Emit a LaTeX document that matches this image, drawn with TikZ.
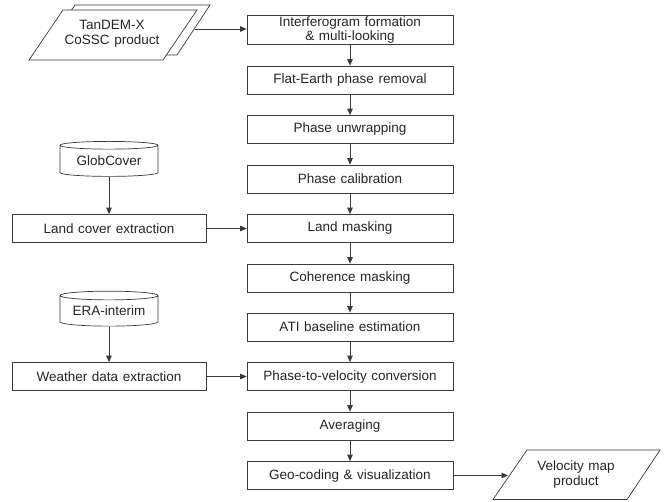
\documentclass[tikz,border=0pt]{standalone}
\usepackage{fontspec}
\setmainfont{Liberation Sans}
\usetikzlibrary{arrows.meta,shapes.geometric}
\definecolor{ln}{HTML}{3A3A3A}
\newcommand{\myfont}{\fontsize{13.5}{15}\selectfont\spaceskip=4.6pt plus 1pt\relax}
\tikzset{
  stepbox/.style={draw=ln,line width=0.7pt,minimum width=206pt,minimum height=28pt,inner sep=0pt,font=\myfont,text=black!85},
  sidebox/.style={draw=ln,line width=0.7pt,minimum width=194pt,minimum height=28pt,inner sep=0pt,font=\myfont,text=black!85},
  dbase/.style={draw=ln,line width=0.7pt,cylinder,shape border rotate=90,aspect=0.12,minimum width=98pt,minimum height=35pt,inner sep=0pt,font=\myfont,text=black!85},
  lbl/.style={inner sep=0pt,align=center,font=\myfont,text=black!85},
  shp/.style={draw=ln,line width=0.7pt,fill=white},
  arr/.style={draw=ln,line width=0.7pt,-{Triangle[length=6.5pt,width=5.5pt]}}
}
\begin{document}
\begin{tikzpicture}[x=1pt,y=-1pt]
\useasboundingbox[fill=white] (0,0) rectangle (668,501);
% TanDEM-X double parallelogram
\draw[shp] (41,55) -- (75,5) -- (210,5) -- (177,55) -- cycle;
\draw[shp] (29,60) -- (63,10) -- (197,10) -- (163,60) -- cycle;
\node[lbl] (tandem) at (112,34) {TanDEM-X\\CoSSC product};
\coordinate (tandemout) at (195,29);
% main column
\node[stepbox] (s1) at (350,30) {\begin{tabular}{@{}c@{}}Interferogram formation\\[-1pt] \& multi-looking\end{tabular}};
\node[stepbox] (s2) at (350,80) {Flat-Earth phase removal};
\node[stepbox] (s3) at (350,129.5) {Phase unwrapping};
\node[stepbox] (s4) at (350,179) {Phase calibration};
\node[stepbox] (s5) at (350,228.5) {Land masking};
\node[stepbox] (s6) at (350,278) {Coherence masking};
\node[stepbox] (s7) at (350,327) {ATI baseline estimation};
\node[stepbox] (s8) at (350,376.5) {Phase-to-velocity conversion};
\node[stepbox] (s9) at (350,426) {Averaging};
\node[stepbox] (s10) at (350,475.5) {Geo-coding \& visualization};
% side
\node[dbase] (glob) at (109,161) {GlobCover};
\node[sidebox] (land) at (109,228.5) {Land cover extraction};
\node[dbase] (era) at (109,311) {ERA-interim};
\node[sidebox] (weather) at (109,376.5) {Weather data extraction};
% velocity map
\draw[shp] (493,499.5) -- (527,450) -- (660,450) -- (627,499.5) -- cycle;
\node[lbl] (vel) at (576,474) {Velocity map\\product};
\coordinate (velin) at (508,475.5);
% connectors
\draw[arr] (tandemout) -- (tandemout -| s1.west);
\foreach \a/\b in {s1/s2,s2/s3,s3/s4,s4/s5,s5/s6,s6/s7,s7/s8,s8/s9,s9/s10}
  \draw[arr] (\a) -- (\b);
\draw[arr] (glob.south) -- (land.north);
\draw[arr] (era.south) -- (weather.north);
\draw[arr] (land) -- (s5);
\draw[arr] (weather) -- (s8);
\draw[arr] (s10) -- (velin);
\end{tikzpicture}
\end{document}
